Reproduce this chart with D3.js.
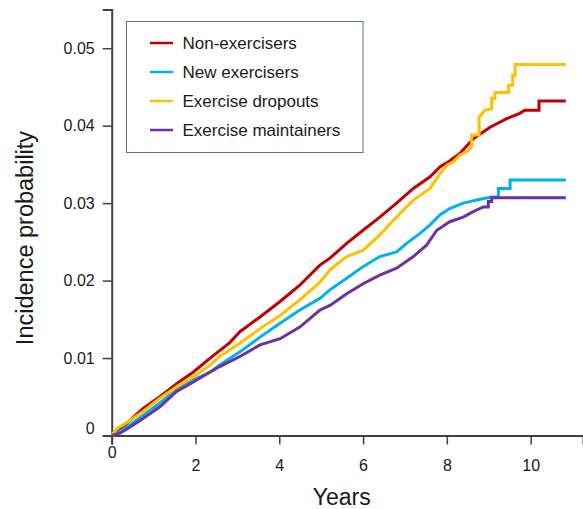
<!DOCTYPE html>
<html>
<head>
<meta charset="utf-8">
<script src="https://cdn.jsdelivr.net/npm/d3@7"></script>
<style>
  body { margin: 0; background: #fff; }
  svg { display: block; font-family: Arial, "Liberation Sans", sans-serif; }
</style>
</head>
<body>
<div id="chart"></div>
<script>
// series names, in legend order
const seriesNames = ["Non-exercisers", "New exercisers", "Exercise dropouts", "Exercise maintainers"];
const seriesColors = ["#c00000", "#00b0f0", "#ffc000", "#7030a0"];

// [years, cumulative incidence]; repeated years are vertical steps
const nonExercisers = [
  [0, 0], [0.2, 0.0007], [0.44, 0.002], [0.75, 0.0035], [1.15, 0.005], [1.55, 0.0067],
  [1.95, 0.0082], [2.35, 0.01], [2.82, 0.012], [3.06, 0.0134], [3.54, 0.0153], [4.02, 0.0173],
  [4.49, 0.0194], [4.97, 0.022], [5.21, 0.0229], [5.61, 0.0248], [6.0, 0.0265], [6.4, 0.0282],
  [6.8, 0.03], [7.2, 0.0319], [7.6, 0.0334], [7.84, 0.0347], [8.0, 0.0352], [8.31, 0.0364],
  [8.63, 0.0383], [9.03, 0.0398], [9.43, 0.0409], [9.74, 0.0416], [9.86, 0.042],
  [10.2, 0.042], [10.2, 0.0432], [10.84, 0.0432]
];
const newExercisers = [
  [0, 0], [0.12, 0.0003], [0.44, 0.0014], [0.75, 0.0026], [1.15, 0.0042], [1.55, 0.0059],
  [1.95, 0.0072], [2.35, 0.0082], [2.58, 0.0091], [3.06, 0.0108], [3.54, 0.0127], [4.02, 0.0145],
  [4.49, 0.0162], [4.97, 0.0177], [5.21, 0.0188], [5.61, 0.0203], [6.0, 0.0218], [6.4, 0.0231],
  [6.8, 0.0237], [7.04, 0.0248], [7.36, 0.0261], [7.6, 0.0272], [7.84, 0.0285], [8.07, 0.0293],
  [8.39, 0.03], [8.79, 0.0305], [9.07, 0.0308], [9.23, 0.0308], [9.23, 0.0319],
  [9.51, 0.0319], [9.51, 0.033], [10.84, 0.033]
];
const exerciseDropouts = [
  [0, 0], [0.12, 0.0009], [0.28, 0.0014], [0.75, 0.0031], [1.15, 0.0048], [1.55, 0.0063],
  [1.95, 0.0076], [2.35, 0.0091], [2.58, 0.0102], [3.06, 0.0119], [3.54, 0.0138], [4.02, 0.0155],
  [4.49, 0.0175], [4.97, 0.0198], [5.21, 0.0214], [5.61, 0.0231], [6.0, 0.0239], [6.4, 0.0259],
  [6.8, 0.0282], [7.2, 0.0304], [7.6, 0.0319], [7.84, 0.0338], [8.0, 0.0349], [8.15, 0.0353],
  [8.31, 0.0362], [8.51, 0.0368], [8.59, 0.0373], [8.59, 0.0388], [8.77, 0.0388], [8.77, 0.0411],
  [8.91, 0.042], [9.07, 0.0422], [9.07, 0.0435], [9.15, 0.0435], [9.15, 0.0443],
  [9.47, 0.0443], [9.47, 0.0452], [9.57, 0.0452], [9.57, 0.0465], [9.63, 0.0465],
  [9.63, 0.0479], [10.84, 0.0479]
];
const exerciseMaintainers = [
  [0, 0], [0.2, 0.0003], [0.44, 0.0011], [0.75, 0.0022], [1.15, 0.0037], [1.55, 0.0057],
  [1.95, 0.0069], [2.35, 0.0082], [2.58, 0.0089], [3.06, 0.0102], [3.54, 0.0117], [4.02, 0.0125],
  [4.49, 0.014], [4.97, 0.0162], [5.21, 0.0168], [5.61, 0.0183], [6.0, 0.0196], [6.4, 0.0207],
  [6.8, 0.0216], [7.2, 0.0231], [7.52, 0.0246], [7.76, 0.0265], [8.07, 0.0276], [8.39, 0.0282],
  [8.63, 0.0289], [8.87, 0.0295], [8.99, 0.0295], [8.99, 0.0302], [9.07, 0.0302],
  [9.07, 0.0307], [10.84, 0.0307]
];

const xTicks = [0, 2, 4, 6, 8, 10];
const yTicks = [0, 0.01, 0.02, 0.03, 0.04, 0.05];

const allSeries = [nonExercisers, newExercisers, exerciseDropouts, exerciseMaintainers];

const width = 583, height = 509;
const axisColor = "#404040";

const svg = d3.select("#chart")
    .append("svg")
    .attr("width", width)
    .attr("height", height);

const x = d3.scaleLinear().domain([0, 11.25]).range([111.7, 583]);
const y = d3.scaleLinear().domain([0, 0.055]).range([435.5, 9.5]);

/** axes */
const axisY = d3.axisLeft(y)
    .tickValues(yTicks)
    .tickSize(9)
    .tickPadding(8)
    .tickFormat(d => d === 0 ? "0" : d.toFixed(2));

const axisX = d3.axisBottom(x)
    .tickValues(xTicks)
    .tickSize(9)
    .tickPadding(15)
    .tickFormat(d => d);

const gy = svg.append("g")
    .attr("class", "axis_y")
    .attr("transform", `translate(${x(0)},0)`)
    .call(axisY);

const gx = svg.append("g")
    .attr("class", "axis_x")
    .attr("transform", `translate(0,${y(0)})`)
    .call(axisX);

[gx, gy].forEach(g => {
    g.select(".domain").attr("stroke", axisColor).attr("stroke-width", 2);
    g.selectAll(".tick line").attr("stroke", axisColor).attr("stroke-width", 1.5);
    g.selectAll(".tick text")
        .attr("fill", "#1a1a1a")
        .attr("font-size", 16)
        .attr("font-family", "Arial, 'Liberation Sans', sans-serif");
});

// the zeros sit a little off their ticks in the original
gy.selectAll(".tick text").filter(d => d === 0).attr("dy", "-0.1em");
gx.selectAll(".tick text").filter(d => d === 0).attr("y", 11);

/** axis labels */
svg.append("text")
    .attr("x", 341.7)
    .attr("y", 505)
    .attr("text-anchor", "middle")
    .attr("font-size", 23)
    .attr("fill", "#1a1a1a")
    .text("Years");

svg.append("text")
    .attr("transform", "translate(33,238) rotate(-90)")
    .attr("text-anchor", "middle")
    .attr("font-size", 23.5)
    .attr("fill", "#1a1a1a")
    .text("Incidence probability");

/** curves */
const line = d3.line()
    .x(d => x(d[0]))
    .y(d => y(d[1]));

svg.append("g")
    .attr("class", "curves")
    .selectAll("path")
    .data(allSeries)
    .join("path")
    .attr("d", line)
    .attr("fill", "none")
    .attr("stroke", (d, i) => seriesColors[i])
    .attr("stroke-width", 3)
    .attr("stroke-linejoin", "miter");

/** legend */
const legend = svg.append("g").attr("class", "legend");
legend.append("rect")
    .attr("x", 126.5)
    .attr("y", 21.5)
    .attr("width", 236.5)
    .attr("height", 131)
    .attr("fill", "#fff")
    .attr("stroke", "#5f6f98")
    .attr("stroke-width", 1);

const items = legend.selectAll("g.item")
    .data(seriesNames)
    .join("g")
    .attr("class", "item")
    .attr("transform", (d, i) => `translate(0,${43 + i * 29})`);

items.append("line")
    .attr("x1", 150)
    .attr("x2", 173)
    .attr("stroke", (d, i) => seriesColors[i])
    .attr("stroke-width", 2.5);

items.append("text")
    .attr("x", 182.5)
    .attr("y", 6)
    .attr("font-size", 17)
    .attr("fill", "#1a1a1a")
    .text(d => d);
</script>
</body>
</html>
